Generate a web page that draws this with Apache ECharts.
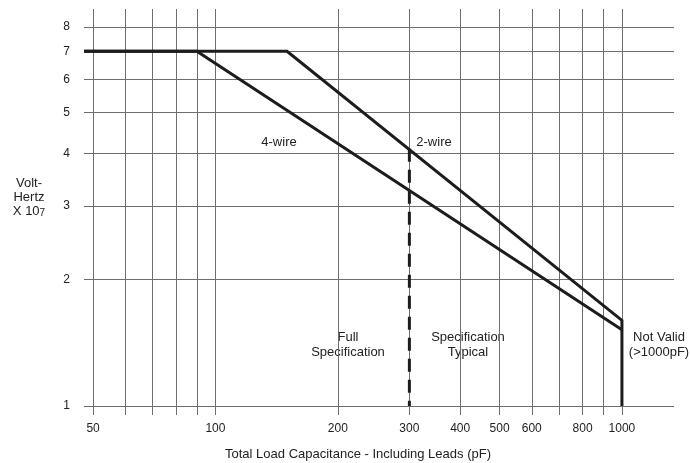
<!DOCTYPE html>
<html>
<head>
<meta charset="utf-8">
<script src="https://cdn.jsdelivr.net/npm/echarts@6/dist/echarts.min.js"></script>
<style>
  html, body { margin: 0; padding: 0; background: #fff; }
  #main { width: 690px; height: 463px; }
</style>
</head>
<body>
<div id="main"></div>
<script>
// 数据
var xGridValues = [50, 60, 70, 80, 90, 100, 200, 300, 400, 500, 600, 700, 800, 900, 1000];
var xLabelValues = [50, 100, 200, 300, 400, 500, 600, 800, 1000];
var yGridValues = [1, 2, 3, 4, 5, 6, 7, 8];

// 2-wire 曲线 (含 1000pF 处竖线)
var wire2X = [47.5, 150, 1000, 1000];
var wire2Y = [7, 7, 1.6, 1];
// 4-wire 曲线
var wire4X = [47.5, 90, 1000];
var wire4Y = [7, 7, 1.52];
// 300pF 分界虚线
var limitX = [300, 300];
var limitY = [4.1, 1];

function pairs(xs, ys) {
    return xs.map(function (x, i) { return [x, ys[i]]; });
}

var myChart = echarts.init(document.getElementById('main'));

var textColor = '#222';
var font = 'Liberation Sans, Arial, sans-serif';
var textFont = '13px ' + font;

option = {
    animation: false,
    grid: { left: 84, right: 16, top: 9, bottom: 48 },
    xAxis: {
        type: 'log',
        min: 47.5,
        max: 1343,
        axisLine: { show: false },
        axisTick: { show: false, customValues: xGridValues },
        axisLabel: {
            customValues: xLabelValues,
            formatter: function (v) { return String(Math.round(v)); },
            margin: 8,
            color: textColor,
            fontSize: 12,
            fontFamily: font
        },
        splitLine: { show: true, lineStyle: { color: '#6e6e6e', width: 1 } }
    },
    yAxis: {
        type: 'log',
        min: 0.952,
        max: 8.83,
        axisLine: { show: false },
        axisTick: { show: false, customValues: yGridValues },
        axisLabel: {
            customValues: yGridValues,
            formatter: function (v) { return String(Math.round(v)); },
            margin: 14,
            color: textColor,
            fontSize: 12,
            fontFamily: font
        },
        splitLine: { show: true, lineStyle: { color: '#6e6e6e', width: 1 } }
    },
    graphic: [
        { type: 'text', x: 279, y: 142, style: { text: '4-wire', align: 'center', verticalAlign: 'middle', fill: textColor, font: textFont } },
        { type: 'text', x: 434, y: 142, style: { text: '2-wire', align: 'center', verticalAlign: 'middle', fill: textColor, font: textFont } },
        { type: 'text', x: 348, y: 345, style: { text: 'Full\nSpecification', align: 'center', verticalAlign: 'middle', lineHeight: 15, fill: textColor, font: textFont, backgroundColor: '#fff', padding: [10, 2] } },
        { type: 'text', x: 468, y: 345, style: { text: 'Specification\nTypical', align: 'center', verticalAlign: 'middle', lineHeight: 15, fill: textColor, font: textFont, backgroundColor: '#fff', padding: [10, 2] } },
        { type: 'text', x: 659, y: 345, style: { text: 'Not Valid\n(>1000pF)', align: 'center', verticalAlign: 'middle', lineHeight: 15, fill: textColor, font: textFont } },
        { type: 'text', x: 358, y: 454, style: { text: 'Total Load Capacitance - Including Leads (pF)', align: 'center', verticalAlign: 'middle', fill: textColor, font: textFont } },
        { type: 'text', x: 29, y: 197, style: {
            text: 'Volt-\nHertz\nX 10{s|7}',
            align: 'center', verticalAlign: 'middle', lineHeight: 14,
            fill: textColor, font: textFont,
            rich: { s: { fontSize: 10, lineHeight: 14, verticalAlign: 'bottom', padding: [4, 0, 0, 0], fill: textColor, fontFamily: font } }
        } }
    ],
    series: [
        {
            name: '2-wire',
            type: 'line',
            data: pairs(wire2X, wire2Y),
            showSymbol: false,
            lineStyle: { color: '#1c1c1c', width: 3, join: 'miter' },
            z: 3
        },
        {
            name: '4-wire',
            type: 'line',
            data: pairs(wire4X, wire4Y),
            showSymbol: false,
            lineStyle: { color: '#1c1c1c', width: 3, join: 'miter' },
            z: 3
        },
        {
            name: 'limit',
            type: 'line',
            data: pairs(limitX, limitY),
            showSymbol: false,
            lineStyle: { color: '#1c1c1c', width: 3, type: [13, 8] },
            z: 3
        }
    ]
};
myChart.setOption(option);
</script>
</body>
</html>
